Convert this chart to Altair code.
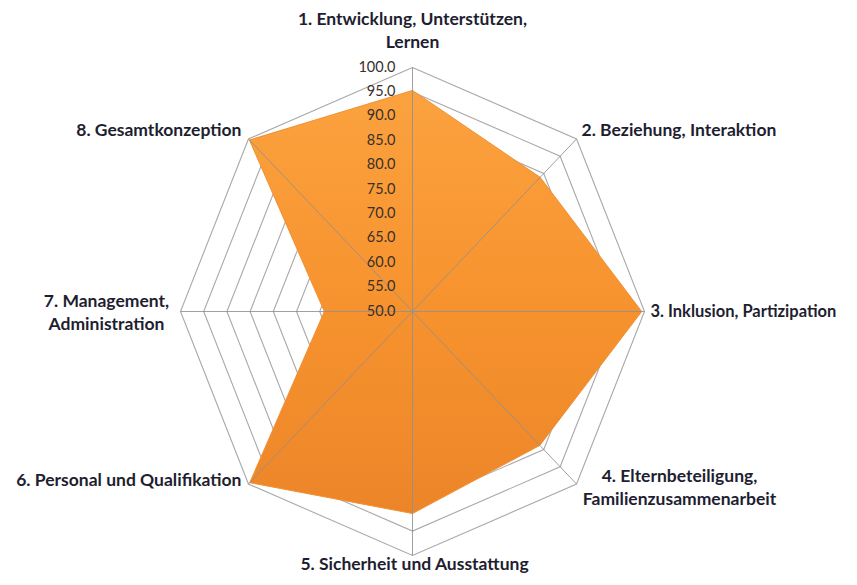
import math
import altair as alt
import pandas as pd

# ---------------- data ----------------
CATEGORIES = [
    "1. Entwicklung, Unterstützen,\nLernen",
    "2. Beziehung, Interaktion",
    "3. Inklusion, Partizipation",
    "4. Elternbeteiligung,\nFamilienzusammenarbeit",
    "5. Sicherheit und Ausstattung",
    "6. Personal und Qualifikation",
    "7. Management,\nAdministration",
    "8. Gesamtkonzeption",
]
VALUES = [95.3, 88.9, 99.4, 88.8, 91.4, 99.6, 69.0, 99.7]
TICKS = [50.0, 55.0, 60.0, 65.0, 70.0, 75.0, 80.0, 85.0, 90.0, 95.0, 100.0]
RMIN, RMAX = 50.0, 100.0

# ---------------- layout / style ----------------
W, H = 841, 569
CX, CY = 404.5, 303.5      # centre inside the view (px)
RX, RY = 232.0, 244.0      # radius of the 100-ring (px)
LABEL_STYLE = [  # (align, dx, dy, fontSize) of the first text line, relative to the 100-ring vertex
    ("center", 0, -48, 17.5),
    ("left", 5, -8, 17.5),
    ("left", 6, 0, 16.5),
    ("center", 103, -7, 17.5),
    ("center", 2, 9, 17.5),
    ("right", -7, -3, 17.5),
    ("center", -74, -10, 17.5),
    ("right", -7, -8, 17.5),
]
FONT = "Lato"
N = len(CATEGORIES)

xscale = alt.Scale(domain=[-CX / RX, (W - CX) / RX], nice=False, zero=False)
yscale = alt.Scale(domain=[-(H - CY) / RY, CY / RY], nice=False, zero=False)

def polar(ch, field):
    return ch.transform_calculate(
        ang=f"datum.idx * 2 * PI / {N}",
    ).transform_calculate(
        rn=f"(datum['{field}'] - {RMIN}) / ({RMAX} - {RMIN})",
    ).transform_calculate(
        px="datum.rn * sin(datum.ang)",
        py="datum.rn * cos(datum.ang)",
    )

X = alt.X("px:Q", scale=xscale, axis=None)
Y = alt.Y("py:Q", scale=yscale, axis=None)

rings_df = pd.DataFrame(
    [{"level": lv, "k": k, "idx": k % N} for lv in TICKS[1:] for k in range(N + 1)]
)
spokes_df = pd.DataFrame(
    [{"idx": i, "v": v, "k": j} for i in range(N) for j, v in enumerate([RMIN, RMAX])]
)
area_df = pd.DataFrame(
    {"idx": [k % N for k in range(N + 1)], "k": list(range(N + 1)),
     "v": [VALUES[k % N] for k in range(N + 1)]}
)
tick_df = pd.DataFrame({"v": TICKS, "label": [f"{t:.1f}" for t in TICKS], "idx": 0})
label_df = pd.DataFrame({"idx": list(range(N)), "cat": CATEGORIES, "v": RMAX})

rings = polar(alt.Chart(rings_df), "level").mark_line(
    color="#a9a9a9", strokeWidth=1.1
).encode(x=X, y=Y, detail="level:N", order="k:Q")

area = polar(alt.Chart(area_df), "v").mark_line(
    fill=alt.Gradient(
        gradient="linear",
        stops=[alt.GradientStop(color="#fba23f", offset=0),
               alt.GradientStop(color="#f7932e", offset=0.5),
               alt.GradientStop(color="#ec8529", offset=1)],
        x1=0, y1=0, x2=0, y2=1,
    ),
    stroke="#f09034",
    strokeWidth=1,
).encode(x=X, y=Y, order="k:Q")

spokes = polar(alt.Chart(spokes_df), "v").mark_line(
    color="#8f8f8f", strokeWidth=1, opacity=0.85
).encode(x=X, y=Y, detail="idx:N", order="k:Q")

ticks = polar(alt.Chart(tick_df), "v").mark_text(
    align="right", baseline="middle", dx=-17, font=FONT, fontSize=14.5, color="#3a302a"
).encode(x=X, y=Y, text="label:N")

layers = [rings, area, spokes, ticks]
for i, (al, dx, dy, fs) in enumerate(LABEL_STYLE):
    layers.append(
        polar(alt.Chart(label_df).transform_filter(alt.datum.idx == i), "v").mark_text(
            align=al, baseline="middle", dx=dx, dy=dy, lineBreak="\n", lineHeight=23,
            font=FONT, fontSize=fs, fontWeight="bold", color="#1e1e30",
        ).encode(x=X, y=Y, text="cat:N")
    )

chart = alt.layer(*layers).properties(
    width=W, height=H, autosize=alt.AutoSizeParams(type="none"), padding=0,
    background="white",
).configure_view(stroke=None)

chart.save("out.html", embed_options={"renderer": "svg", "actions": False})
